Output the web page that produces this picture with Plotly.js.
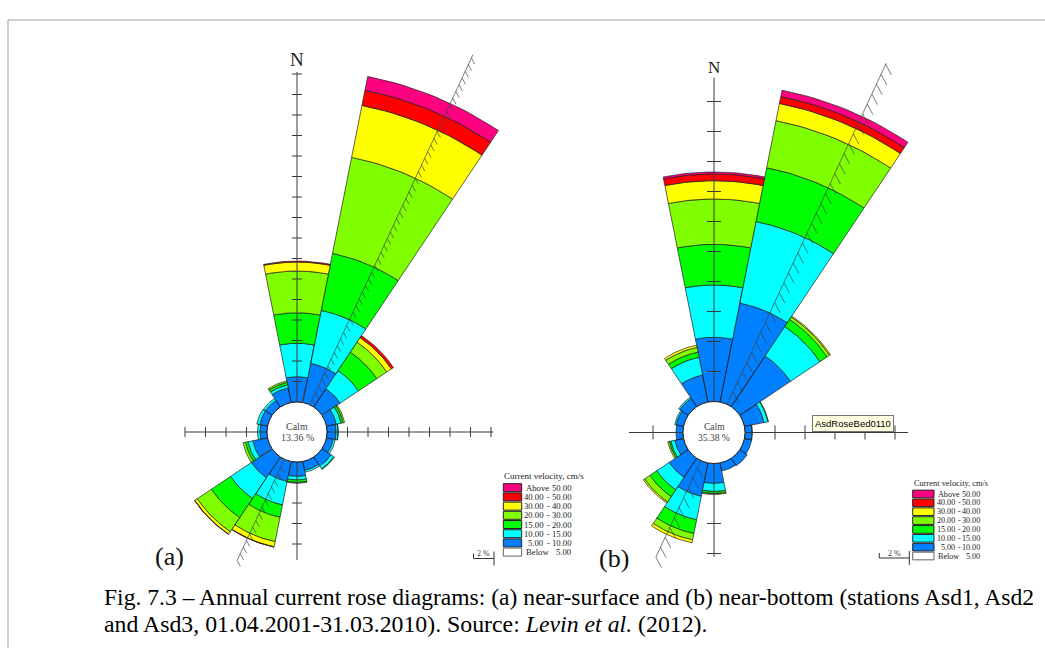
<!DOCTYPE html>
<html><head><meta charset="utf-8">
<script src="https://cdn.plot.ly/plotly-3.0.1.min.js"></script>
<style>html,body{margin:0;padding:0;background:#fff;}#chart{width:1045px;height:648px;}</style>
</head><body><div id="chart"></div>
<script>
// ---------------- DATA ----------------
const directions = ['N','NNE','NE','ENE','E','ESE','SE','SSE','S','SSW','SW','WSW','W','WNW','NW','NNW'];
const binNames = ['5.00 - 10.00','10.00 - 15.00','15.00 - 20.00','20.00 - 30.00','30.00 - 40.00','40.00 - 50.00','Above 50.00'];
const binColors = ['#0080ff','#00ffff','#00ff00','#80ff00','#ffff00','#ff0000','#ff0080'];
const legendLow  = ['Above','40.00','30.00','20.00','15.00','10.00','5.00','Below'];
const legendHigh = ['50.00','50.00','40.00','30.00','20.00','15.00','10.00','5.00'];
const legendColors = ['#ff0080','#ff0000','#ffff00','#80ff00','#00ff00','#00ffff','#0080ff','#ffffff'];
const legendTitle = 'Current velocity, cm/s';

// (a) near-surface: frequency (%) per direction for each velocity class
const surf_5_10  = [2.47,3.90,2.15,0.98,0.88,0.68,1.07,0.88,1.41,2.00,2.44,1.46,0.68,0.78,0.78,1.46];
const surf_10_15 = [3.26,5.27,2.14,0.48,0.19,0.20,0.34,0.19,0.35,2.33,2.44,0.49,0.25,0.29,0.24,0.30];
const surf_15_20 = [2.98,5.66,2.15,0.20,0.03,0.00,0.05,0.00,0.24,1.23,2.24,0.25,0.00,0.00,0.00,0.24];
const surf_20_30 = [4.07,9.56,1.17,0.14,0.00,0.00,0.00,0.00,0.08,2.42,1.66,0.24,0.00,0.00,0.00,0.15];
const surf_30_40 = [0.88,5.17,0.54,0.00,0.00,0.00,0.00,0.00,0.00,0.51,0.29,0.00,0.00,0.00,0.00,0.00];
const surf_40_50 = [0.09,1.51,0.24,0.00,0.00,0.00,0.00,0.00,0.00,0.03,0.03,0.00,0.00,0.00,0.00,0.00];
const surf_50p   = [0.00,1.37,0.00,0.00,0.00,0.00,0.00,0.00,0.00,0.00,0.00,0.00,0.00,0.00,0.00,0.00];
const surfCalm = 13.36;

// (b) near-bottom
const bott_5_10  = [4.28,6.73,4.07,1.33,0.47,0.50,0.60,0.55,1.33,2.27,1.53,0.60,0.47,0.50,0.67,1.84];
const bott_10_15 = [3.49,5.54,2.36,0.27,0.02,0.00,0.00,0.00,0.54,1.60,1.00,0.27,0.00,0.10,0.10,1.21];
const bott_15_20 = [2.71,3.66,0.57,0.03,0.00,0.00,0.00,0.00,0.13,0.93,0.54,0.10,0.00,0.00,0.00,0.35];
const bott_20_30 = [3.02,3.20,0.20,0.00,0.00,0.00,0.00,0.00,0.07,0.43,0.43,0.10,0.00,0.00,0.00,0.32];
const bott_30_40 = [1.22,1.17,0.07,0.00,0.00,0.00,0.00,0.00,0.00,0.20,0.10,0.00,0.00,0.00,0.00,0.15];
const bott_40_50 = [0.45,0.47,0.00,0.00,0.00,0.00,0.00,0.00,0.00,0.00,0.00,0.00,0.00,0.00,0.00,0.00];
const bott_50p   = [0.13,0.43,0.00,0.00,0.00,0.00,0.00,0.00,0.00,0.00,0.00,0.00,0.00,0.00,0.00,0.00];
const bottCalm = 35.38;

const captionLine1 = 'Fig. 7.3 \u2013 Annual current rose diagrams: (a) near-surface and (b) near-bottom (stations Asd1, Asd2';
const captionLine2 = 'and Asd3, 01.04.2001-31.03.2010). Source: <i>Levin et al.</i> (2012).';

// ---------------- LAYOUT / STYLE ----------------
const W = 1045, H = 648;
const serif = 'Liberation Serif, Times New Roman, serif';
const roses = [
  {bins:[surf_5_10,surf_10_15,surf_15_20,surf_20_30,surf_30_40,surf_40_50,surf_50p], calm:surfCalm,
   xa:'x', ya:'y', xk:'xaxis', yk:'yaxis', dom:[0,0.56], cx:297, cy:432, ppp:10.25, calmPx:30,
   up:32.2, down:9.56, left:8.0, right:16.2, tickPx:5, slant:25, slUp:37.7, slDown:10.9, barbStep:0.72, barbPx:7,
   nFont:19, nGap:12, calmFont:10,
   leg:{x0:503.3, bw:18.4, ty:476, r0:487.7, rh:9.2, xw:525, xn:544.8, xd:548.3, xr:572.5, fs:8.7},
   sb:{xr:494, y:558.5}, label:'(a)', lx:169.5, ly:556.5},
  {bins:[bott_5_10,bott_10_15,bott_15_20,bott_20_30,bott_30_40,bott_40_50,bott_50p], calm:bottCalm,
   xa:'x2', ya:'y2', xk:'xaxis2', yk:'yaxis2', dom:[0.56,1], cx:714, cy:432.5, ppp:15, calmPx:31,
   up:21.6, down:6.23, left:3.6, right:10.87, tickPx:7, slant:25, slUp:25.1, slDown:7.1, barbStep:0.73, barbPx:12,
   nFont:17, nGap:10, calmFont:9.5,
   leg:{x0:912.7, bw:21.3, ty:483.3, r0:494, rh:8.86, xw:936.7, xn:956, xd:959.3, xr:980.5, fs:8.1},
   sb:{xr:909.3, y:558}, label:'(b)', lx:613.5, ly:558}
];

const traces = [], shapes = [], annotations = [];
const layout = {width:W, height:H, margin:{l:0,r:0,t:0,b:0}, paper_bgcolor:'#fff', plot_bgcolor:'rgba(0,0,0,0)',
  showlegend:false, hovermode:false};

const rad = d => d*Math.PI/180;
const pxX = p => p/W, pxY = p => 1 - p/H;
const txt = (o) => Object.assign({showarrow:false, xanchor:'center', yanchor:'middle', borderpad:0}, o);

roses.forEach(c => {
  const calmR = c.calmPx / c.ppp;
  // axes ranges so that 1 % = ppp pixels, centre at (cx, cy)
  layout[c.xk] = {domain:c.dom, range:[(c.dom[0]*W - c.cx)/c.ppp, (c.dom[1]*W - c.cx)/c.ppp], visible:false, fixedrange:true};
  layout[c.yk] = {domain:[0,1], range:[(c.cy - H)/c.ppp, c.cy/c.ppp], visible:false, fixedrange:true};
  const tp = v => v / c.ppp; // px -> data units

  // stacked sectors
  const cum = directions.map(() => 0);
  c.bins.forEach((vals, b) => {
    const xs = [], ys = [];
    vals.forEach((v, i) => {
      if (v <= 0) return;
      const r0 = calmR + cum[i], r1 = r0 + v; cum[i] += v;
      const th = i * 22.5, n = 16, s = xs.length;
      for (let k = 0; k <= n; k++) { const a = rad(th - 11.25 + 22.5*k/n); xs.push(r1*Math.sin(a)); ys.push(r1*Math.cos(a)); }
      for (let k = n; k >= 0; k--) { const a = rad(th - 11.25 + 22.5*k/n); xs.push(r0*Math.sin(a)); ys.push(r0*Math.cos(a)); }
      xs.push(xs[s]); ys.push(ys[s]); xs.push(null); ys.push(null);
    });
    traces.push({type:'scatter', mode:'lines', x:xs, y:ys, xaxis:c.xa, yaxis:c.ya, fill:'toself',
      fillcolor:binColors[b], line:{color:'#202020', width:0.7}, hoverinfo:'skip', name:binNames[b]});
  });

  // cross axes with ticks every 2 %
  const ax = [], ay = [];
  const seg = (x0,y0,x1,y1) => { ax.push(x0,x1,null); ay.push(y0,y1,null); };
  seg(0, calmR, 0, calmR + c.up); seg(0, -calmR, 0, -(calmR + c.down));
  seg(calmR, 0, calmR + c.right, 0); seg(-calmR, 0, -(calmR + c.left), 0);
  const tl = tp(c.tickPx);
  for (let k = 2; k <= c.up + 1e-6; k += 2) seg(-tl, calmR+k, tl, calmR+k);
  for (let k = 2; k <= c.down + 1e-6; k += 2) seg(-tl, -(calmR+k), tl, -(calmR+k));
  for (let k = 2; k <= c.right + 1e-6; k += 2) seg(calmR+k, -tl, calmR+k, tl);
  for (let k = 2; k <= c.left + 1e-6; k += 2) seg(-(calmR+k), -tl, -(calmR+k), tl);
  traces.push({type:'scatter', mode:'lines', x:ax, y:ay, xaxis:c.xa, yaxis:c.ya, line:{color:'#3a3a3a', width:1}, hoverinfo:'skip'});

  // slanted hatched line
  const sx = [], sy = [];
  const a1 = rad(c.slant), a2 = rad(c.slant + 180), ab = rad(c.slant + 127);
  sx.push(calmR*Math.sin(a1), (calmR+c.slUp)*Math.sin(a1), null, calmR*Math.sin(a2), (calmR+c.slDown)*Math.sin(a2), null);
  sy.push(calmR*Math.cos(a1), (calmR+c.slUp)*Math.cos(a1), null, calmR*Math.cos(a2), (calmR+c.slDown)*Math.cos(a2), null);
  const bl = tp(c.barbPx);
  for (let r = -c.slDown; r <= c.slUp; r += c.barbStep) {
    if (Math.abs(r) < 0.3) continue;
    const rr = r >= 0 ? calmR + r : -(calmR - r);
    const px0 = rr*Math.sin(a1), py0 = rr*Math.cos(a1);
    sx.push(px0, px0 + bl*Math.sin(ab), null); sy.push(py0, py0 + bl*Math.cos(ab), null);
  }
  traces.push({type:'scatter', mode:'lines', x:sx, y:sy, xaxis:c.xa, yaxis:c.ya, line:{color:'#444', width:0.7}, hoverinfo:'skip'});

  // calm circle
  shapes.push({type:'circle', xref:c.xa, yref:c.ya, x0:-calmR, x1:calmR, y0:-calmR, y1:calmR,
    fillcolor:'#fff', line:{color:'#202020', width:1}, layer:'above'});
  annotations.push(txt({xref:c.xa, yref:c.ya, x:0, y:tp(6), text:'Calm', font:{family:serif, size:c.calmFont, color:'#444'}}));
  annotations.push(txt({xref:c.xa, yref:c.ya, x:0, y:-tp(5.5), text:c.calm.toFixed(2)+' %', font:{family:serif, size:c.calmFont, color:'#444'}}));
  // North label
  annotations.push(txt({xref:c.xa, yref:c.ya, x:0, y:calmR + c.up + tp(c.nGap), text:'N', font:{family:serif, size:c.nFont, color:'#222'}}));

  // scale bar 2 %
  const sbx1 = (c.sb.xr - c.cx)/c.ppp, sbx0 = sbx1 - 2, sby = (c.cy - c.sb.y)/c.ppp;
  shapes.push({type:'line', xref:c.xa, yref:c.ya, x0:sbx0, x1:sbx1, y0:sby, y1:sby, line:{color:'#333', width:1}});
  shapes.push({type:'line', xref:c.xa, yref:c.ya, x0:sbx0, x1:sbx0, y0:sby, y1:sby+tp(5), line:{color:'#333', width:1}});
  shapes.push({type:'line', xref:c.xa, yref:c.ya, x0:sbx1, x1:sbx1, y0:sby+tp(7), y1:sby-tp(7), line:{color:'#333', width:1}});
  annotations.push(txt({xref:c.xa, yref:c.ya, x:(sbx0+sbx1)/2, y:sby+tp(5), text:'2 %', font:{family:serif, size:8, color:'#333'}}));

  // legend
  const L = c.leg;
  annotations.push(txt({xref:'paper', yref:'paper', x:pxX(L.x0), y:pxY(L.ty), xanchor:'left', text:legendTitle, font:{family:serif, size:L.fs+0.3, color:'#222'}}));
  legendLow.forEach((lo, i) => {
    const yc = L.r0 + i*L.rh;
    shapes.push({type:'rect', xref:'paper', yref:'paper', x0:pxX(L.x0), x1:pxX(L.x0+L.bw), y0:pxY(yc-L.rh/2+0.6), y1:pxY(yc+L.rh/2-0.6),
      fillcolor:legendColors[i], line:{color: i===7 ? '#666' : '#222', width:1}});
    const word = isNaN(parseFloat(lo));
    annotations.push(txt({xref:'paper', yref:'paper', x:pxX(word ? L.xw : L.xn), y:pxY(yc), xanchor: word ? 'left' : 'right', text:lo, font:{family:serif, size:L.fs, color:'#222'}}));
    if (!word) annotations.push(txt({xref:'paper', yref:'paper', x:pxX(L.xd), y:pxY(yc), text:'-', font:{family:serif, size:L.fs, color:'#222'}}));
    annotations.push(txt({xref:'paper', yref:'paper', x:pxX(L.xr), y:pxY(yc), xanchor:'right', text:legendHigh[i], font:{family:serif, size:L.fs, color:'#222'}}));
  });
  // panel label
  annotations.push(txt({xref:'paper', yref:'paper', x:pxX(c.lx), y:pxY(c.ly), text:c.label, font:{family:serif, size:26, color:'#111'}}));
});

// tooltip box seen in the original screenshot
annotations.push(txt({xref:'paper', yref:'paper', x:pxX(853), y:pxY(423), text:'AsdRoseBed0110',
  bgcolor:'#ffffe1', bordercolor:'#767676', borderwidth:1, borderpad:2, font:{family:'Liberation Sans, Arial, sans-serif', size:9.5, color:'#000'}}));
// caption
annotations.push(txt({xref:'paper', yref:'paper', x:pxX(103), y:pxY(596.5), xanchor:'left', text:captionLine1, font:{family:serif, size:23.6, color:'#000'}}));
annotations.push(txt({xref:'paper', yref:'paper', x:pxX(103), y:pxY(623.5), xanchor:'left', text:captionLine2, font:{family:serif, size:23.8, color:'#000'}}));
// page frame
shapes.push({type:'line', xref:'paper', yref:'paper', x0:pxX(8), x1:1, y0:pxY(20), y1:pxY(20), line:{color:'#a0a0a0', width:1}});
shapes.push({type:'line', xref:'paper', yref:'paper', x0:pxX(8), x1:pxX(8), y0:pxY(20), y1:0, line:{color:'#a0a0a0', width:1}});

layout.shapes = shapes; layout.annotations = annotations;
Plotly.newPlot('chart', traces, layout, {staticPlot:true, displayModeBar:false});
</script></body></html>
